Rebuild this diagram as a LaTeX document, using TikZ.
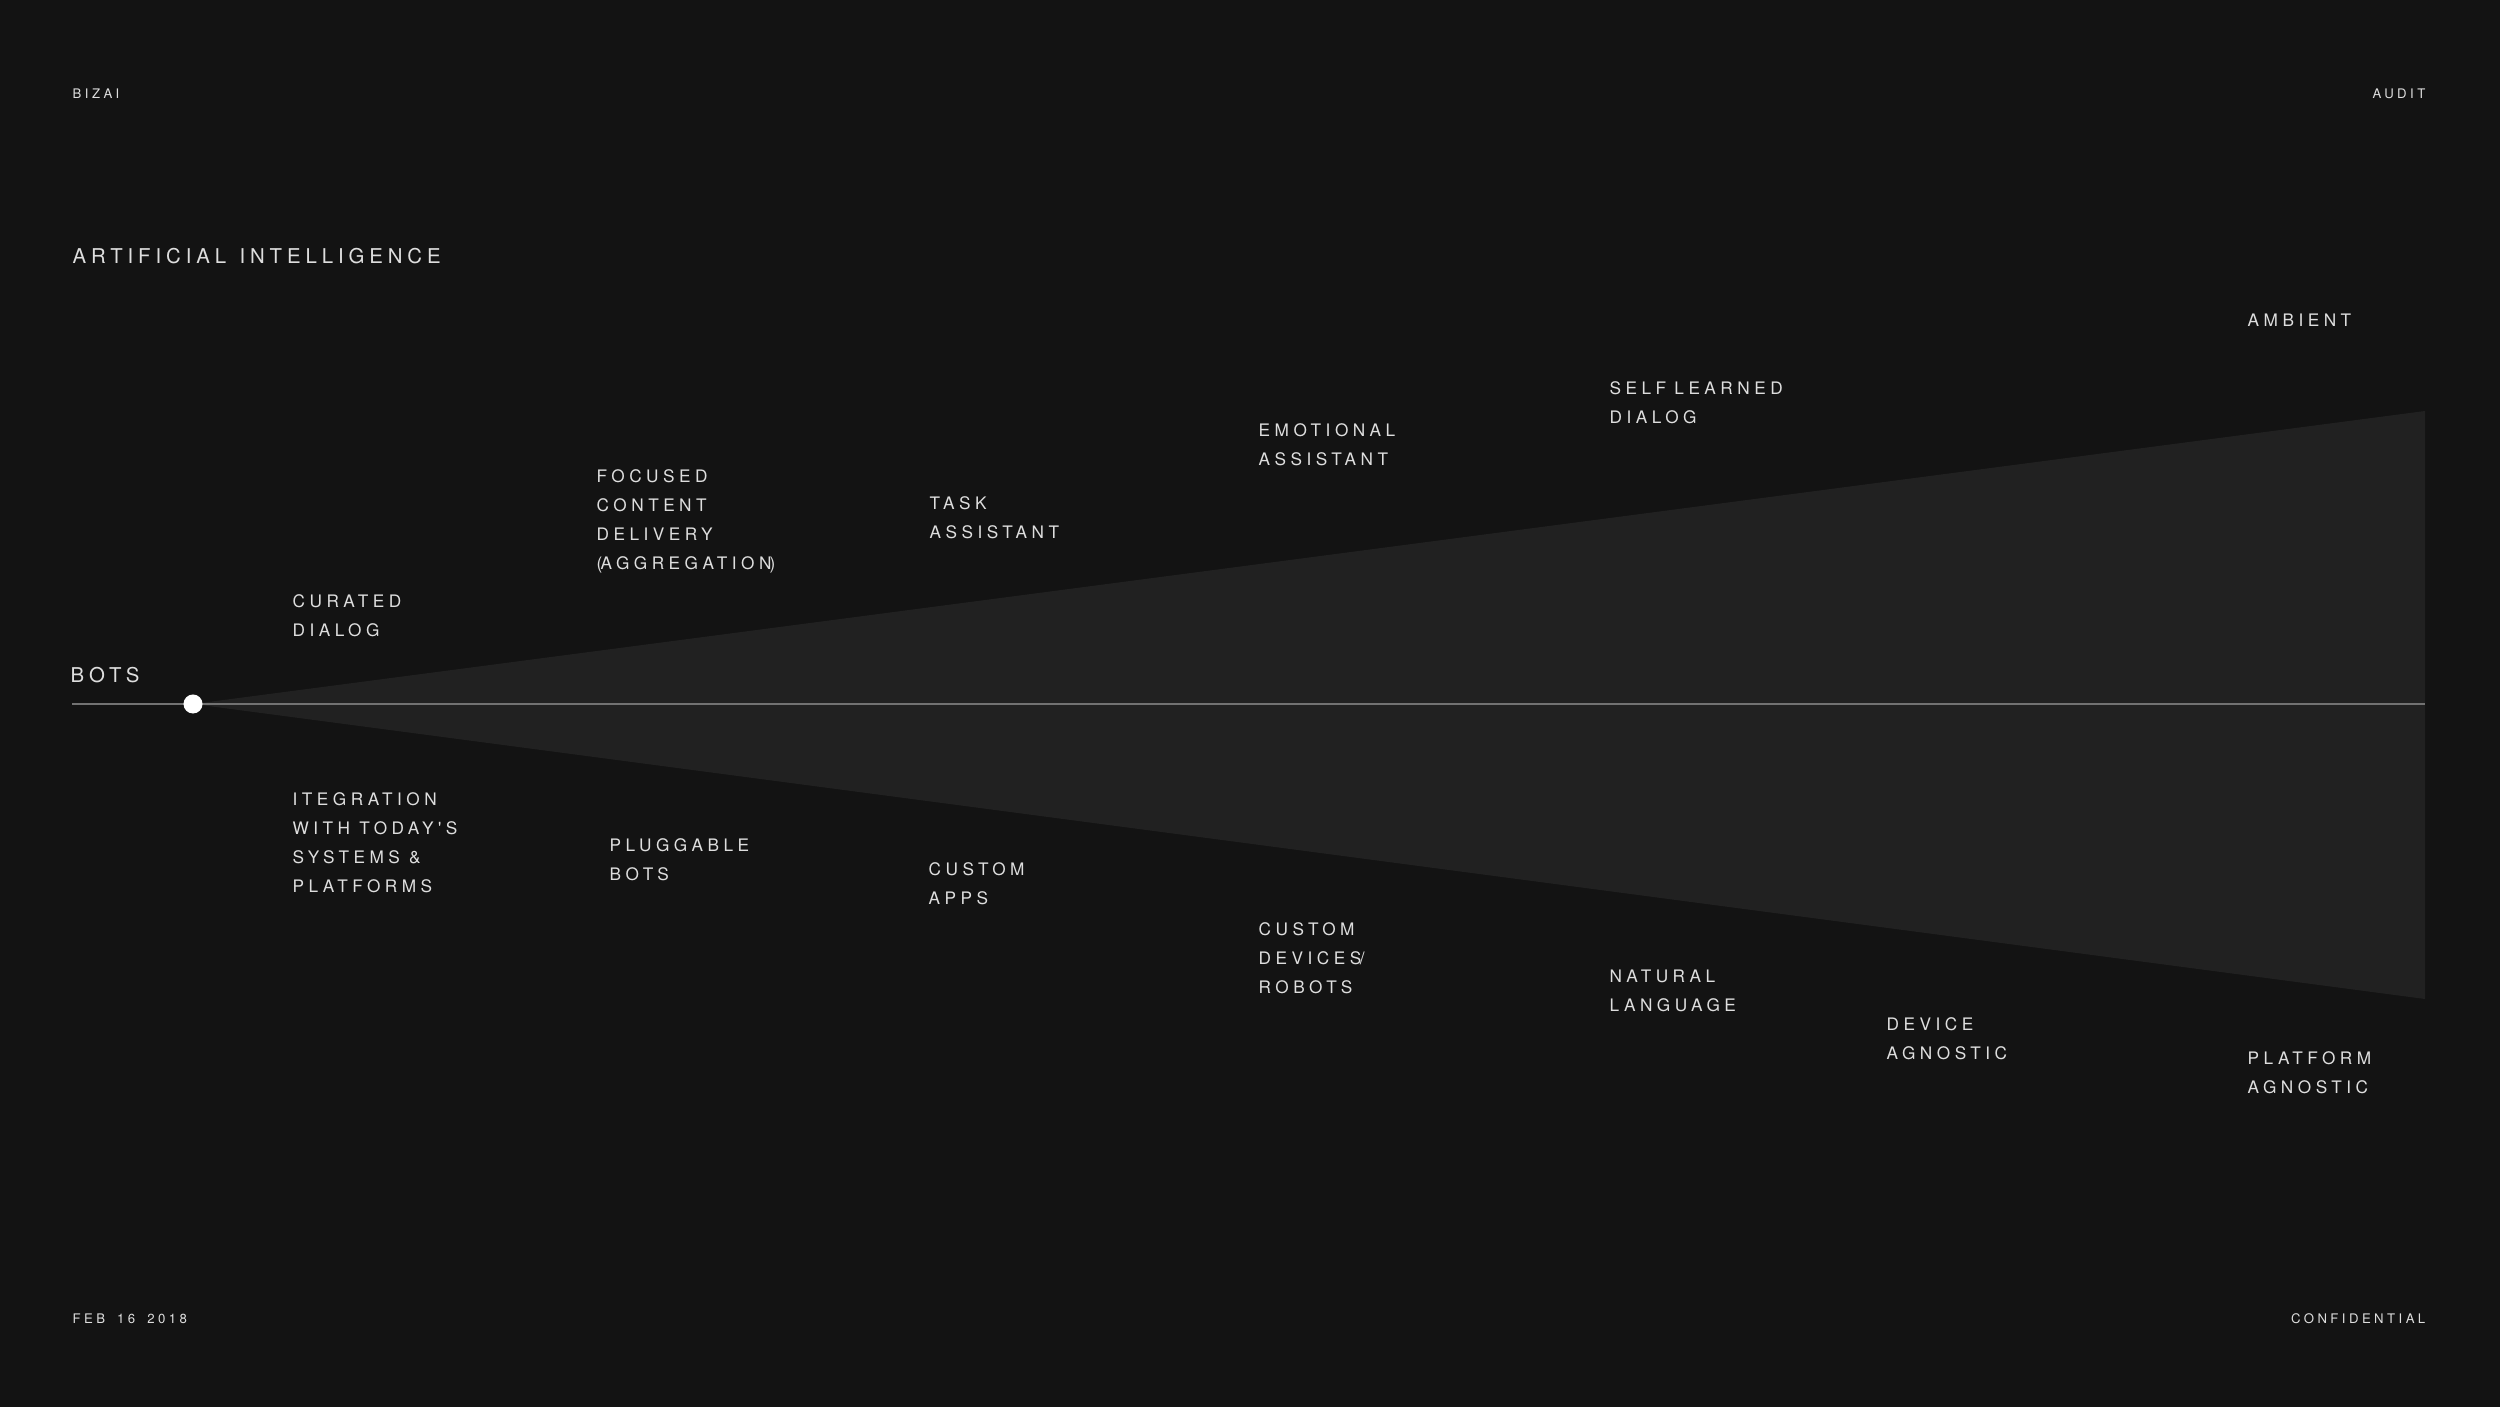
\documentclass[tikz,border=0pt]{standalone}
\usepackage{fontspec}
\setmainfont{TeX Gyre Heros}
\newfontfamily\trackedfont[LetterSpace=26]{TeX Gyre Heros}
\newfontfamily\headingfont[LetterSpace=24]{TeX Gyre Heros}
\usetikzlibrary{shapes.geometric}

\definecolor{bgdark}{HTML}{131313}
\definecolor{fangray}{HTML}{212121}
\definecolor{axisgray}{HTML}{727272}
\definecolor{textwhite}{HTML}{DEDEDE}

\begin{document}
\begin{tikzpicture}[x=0.01cm, y=-0.01cm,
        stage/.style={anchor=north west, inner sep=0, align=left, text=textwhite,
            font=\trackedfont\fontsize{4.9pt}{8.2pt}\selectfont},
        heading/.style={anchor=north west, inner sep=0, text=textwhite,
            font=\headingfont\fontsize{5.8pt}{7pt}\selectfont},
        corner/.style={inner sep=0, text=textwhite,
            font=\trackedfont\fontsize{3.75pt}{5pt}\selectfont},
        axis/.style={draw=axisgray, line width=0.43pt},
        botsdot/.style={circle, fill=white, inner sep=0, minimum size=0.19cm}]

        % Background
        \fill[bgdark] (0,0) rectangle (2500,1407);
        \useasboundingbox (0,0) rectangle (2500,1407);

        % Corner texts
        \node[corner, anchor=north west] (bizai) at (72,88) {BIZAI};
        \node[corner, anchor=north east] (audit) at (2426,88) {AUDIT};
        \node[corner, anchor=north west] (date) at (72,1313) {FEB\hspace{1.4pt} 16\hspace{1.4pt} 2018};
        \node[corner, anchor=north east] (confidential) at (2426,1313) {CONFIDENTIAL};

        % Headings
        \node[heading] (ai) at (72,248) {ARTIFICIAL\hspace{0.8pt} INTELLIGENCE};
        \node[heading] (bots) at (70,667) {BOTS};

        % Fan (opens to the right)
        \coordinate (apex) at (193,704);
        \coordinate (fantop) at (2425,411);
        \coordinate (fanbottom) at (2425,999);
        \fill[fangray] (apex) -- (fantop) -- (fanbottom) -- cycle;

        % Axis with dot
        \coordinate (axisstart) at (72,704);
        \coordinate (axisend) at (2425,704);
        \draw[axis] (axisstart) -- (axisend);
        \node[botsdot] (dot) at (apex) {};

        % Stages above the axis
        \node[stage] (curated) at (292,594) {CURATED\\DIALOG};
        \node[stage] (focused) at (596,469) {FOCUSED\\CONTENT\\DELIVERY\\(\kern-0.5pt AGGREGATION\kern-0.5pt)};
        \node[stage] (task) at (929,496) {TASK\\ASSISTANT};
        \node[stage] (emotional) at (1258,423) {EMOTIONAL\\ASSISTANT};
        \node[stage] (selflearned) at (1609,381) {SELF\kern-0.3pt\ LEARNED\\DIALOG};
        \node[stage] (ambient) at (2247,313) {AMBIENT};

        % Stages below the axis
        \node[stage] (integration) at (292,792) {ITEGRATION\\WITH TODAY'S\\SYSTEMS \&\\PLATFORMS};
        \node[stage] (pluggable) at (609,838) {PLUGGABLE\\BOTS};
        \node[stage] (customapps) at (928,862) {CUSTOM\\APPS};
        \node[stage] (customdevices) at (1258,922) {CUSTOM\\DEVICES\kern-0.4pt/\\ROBOTS};
        \node[stage] (natural) at (1609,969) {NATURAL\\LANGUAGE};
        \node[stage] (device) at (1886,1017) {DEVICE\\AGNOSTIC};
        \node[stage] (platform) at (2247,1051) {PLATFORM\\AGNOSTIC};
\end{tikzpicture}
\end{document}
